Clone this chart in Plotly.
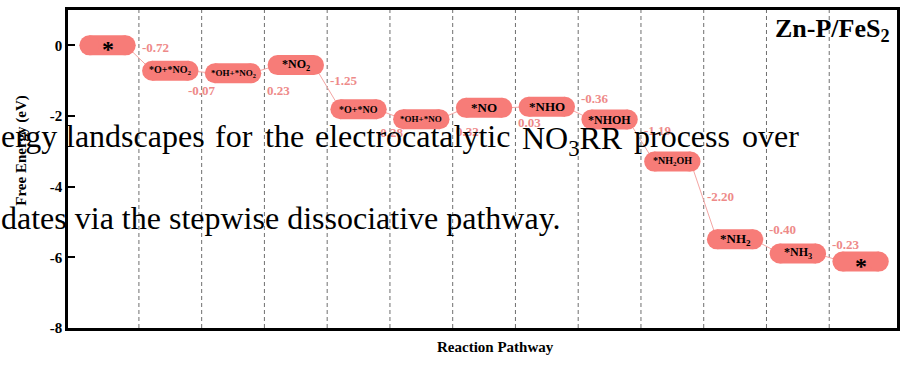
import numpy as np
import plotly.graph_objects as go

# Intermediates along the stepwise dissociative NO3RR pathway on Zn-P/FeS2
states = ["*", "*O+*NO<sub>2</sub>", "*OH+*NO<sub>2</sub>", "*NO<sub>2</sub>", "*O+*NO",
          "*OH+*NO", "*NO", "*NHO", "*NHOH", "*NH<sub>2</sub>OH", "*NH<sub>2</sub>",
          "*NH<sub>3</sub>", "*"]
# Free-energy change of each elementary step (eV)
step_dG = [-0.72, -0.07, 0.23, -1.25, -0.28, 0.32, 0.03, -0.36, -1.19, -2.20, -0.40, -0.23]
step_text = ["-0.72", "-0.07", "0.23", "-1.25", "-0.28", "0.32", "0.03", "-0.36",
             "-1.19", "-2.20", "-0.40", "-0.23"]
y_ticks = [0, -2, -4, -6, -8]

# ---- styling / placement ----
W, H = 906, 370
ML, MR, MT, MB = 68, 6, 10, 42
BAR = "#F77C78"
STEP_COL = "#EE8A89"
LINK_COL = "#F4A5A3"
SERIF = "Liberation Serif"
pill_half = 0.29          # half-length of the straight part of each level (x units)
pill_thick = 20           # level thickness, px
state_font = [24, 10, 9, 12, 10, 9, 13, 13, 12, 10, 13, 12, 24]
state_shift = [-4, 0, 0, 0, 0, 0, 0, 0, 0, 0, 0, 0, -4]
# label offset (eV) from the upper of the two levels, and its anchoring
label_dy = [-0.06, -0.55, -0.71, -0.43, -0.65, -0.66, -0.44, 0.24, -0.31, -0.98, 0.28, 0.26]
label_anchor = ["left", "center", "left", "left", "center", "left", "left", "left",
                "left", "left", "left", "left"]


def px_x(px):
    return (px - ML) / (W - ML - MR)


def px_y(py):
    return (H - MB - py) / (H - MT - MB)


pos = np.arange(1, len(states) + 1)
energy = np.concatenate([[0.0], np.cumsum(step_dG)])

fig = go.Figure()

# thin connectors between consecutive levels (drawn underneath the levels)
lx, ly = [], []
for i in range(len(step_dG)):
    lx += [pos[i] + pill_half, pos[i + 1] - pill_half, None]
    ly += [energy[i], energy[i + 1], None]
fig.add_trace(go.Scatter(x=lx, y=ly, mode="lines", line=dict(color=LINK_COL, width=1),
                         hoverinfo="skip", showlegend=False))

# rounded energy levels: thick segment plus round end caps
px_, py_ = [], []
for p, e in zip(pos, energy):
    px_ += [p - pill_half, p + pill_half, None]
    py_ += [e, e, None]
fig.add_trace(go.Scatter(x=px_, y=py_, mode="lines+markers",
                         line=dict(color=BAR, width=pill_thick),
                         marker=dict(color=BAR, size=pill_thick, line=dict(width=0)),
                         hoverinfo="skip", showlegend=False))

annotations = []
# intermediate names on the levels
for p, e, s, fs, sh in zip(pos, energy, states, state_font, state_shift):
    annotations.append(dict(x=p, y=e, xref="x", yref="y", text=f"<b>{s}</b>",
                            showarrow=False, yshift=sh,
                            font=dict(family=SERIF, size=fs, color="black")))

# step free-energy changes next to the separators
for i, t in enumerate(step_text):
    top = max(energy[i], energy[i + 1])
    xa = label_anchor[i]
    annotations.append(dict(x=pos[i] + 0.5, y=top + label_dy[i], xref="x", yref="y",
                            text=f"<b>{t}</b>", showarrow=False, xanchor=xa,
                            xshift=1 if xa == "left" else 0,
                            font=dict(family=SERIF, size=13, color=STEP_COL)))

# separators between reaction steps
shapes = []
for i in range(len(states) - 1):
    shapes.append(dict(type="line", xref="x", yref="paper", x0=pos[i] + 0.5, x1=pos[i] + 0.5,
                       y0=0, y1=1, line=dict(color="#6f6f6f", width=1, dash="4px,3px"),
                       layer="below"))

# panel label
annotations.append(dict(x=px_x(895), y=px_y(30), xref="paper", yref="paper",
                        text="<b>Zn-P/FeS<sub>2</sub></b>", showarrow=False,
                        xanchor="right", yanchor="middle",
                        font=dict(family=SERIF, size=26, color="black")))
# axis titles
annotations.append(dict(x=px_x(10), y=px_y(150), xref="paper", yref="paper",
                        text="<b>Free Energy (eV)</b>", showarrow=False, textangle=-90,
                        font=dict(family=SERIF, size=15, color="black")))
annotations.append(dict(x=px_x(497), y=px_y(357), xref="paper", yref="paper",
                        text="<b>Reaction Pathway</b>", showarrow=False,
                        font=dict(family=SERIF, size=15, color="black")))

# caption text running across the figure (justified first line, word by word)
line1 = [("ergy", 0, 0), ("landscapes", 65, 0), ("for", 215, 0), ("the", 265, 0),
         ("electrocatalytic", 315, 0), ("NO<sub>3</sub>RR", 523, -4), ("process", 635, 0),
         ("over", 743, 0)]
for word, x0, dy in line1:
    annotations.append(dict(x=px_x(x0), y=px_y(136), xref="paper", yref="paper",
                            text=word, showarrow=False, xanchor="left", yanchor="middle",
                            borderpad=0, yshift=dy,
                            font=dict(family=SERIF, size=32, color="black")))
annotations.append(dict(x=px_x(0), y=px_y(218), xref="paper", yref="paper",
                        text="dates via the stepwise dissociative pathway.",
                        showarrow=False, xanchor="left", yanchor="middle", borderpad=0,
                        font=dict(family=SERIF, size=32, color="black")))

fig.update_layout(
    width=W, height=H,
    margin=dict(l=ML, r=MR, t=MT, b=MB),
    paper_bgcolor="white", plot_bgcolor="white",
    shapes=shapes, annotations=annotations,
    showlegend=False,
)
fig.update_xaxes(range=[0.37, 13.58], showgrid=False, zeroline=False, showticklabels=False,
                 ticks="", showline=True, linecolor="black", linewidth=2.5, mirror=True)
fig.update_yaxes(range=[-8, 1.0], showgrid=False, zeroline=False,
                 tickvals=y_ticks, ticktext=[f"<b>{v}</b>" for v in y_ticks],
                 ticks="inside", ticklen=7, tickwidth=2, tickcolor="black",
                 tickfont=dict(family=SERIF, size=15, color="black"),
                 showline=True, linecolor="black", linewidth=2.5, mirror=True)

fig.write_html("out.html")
